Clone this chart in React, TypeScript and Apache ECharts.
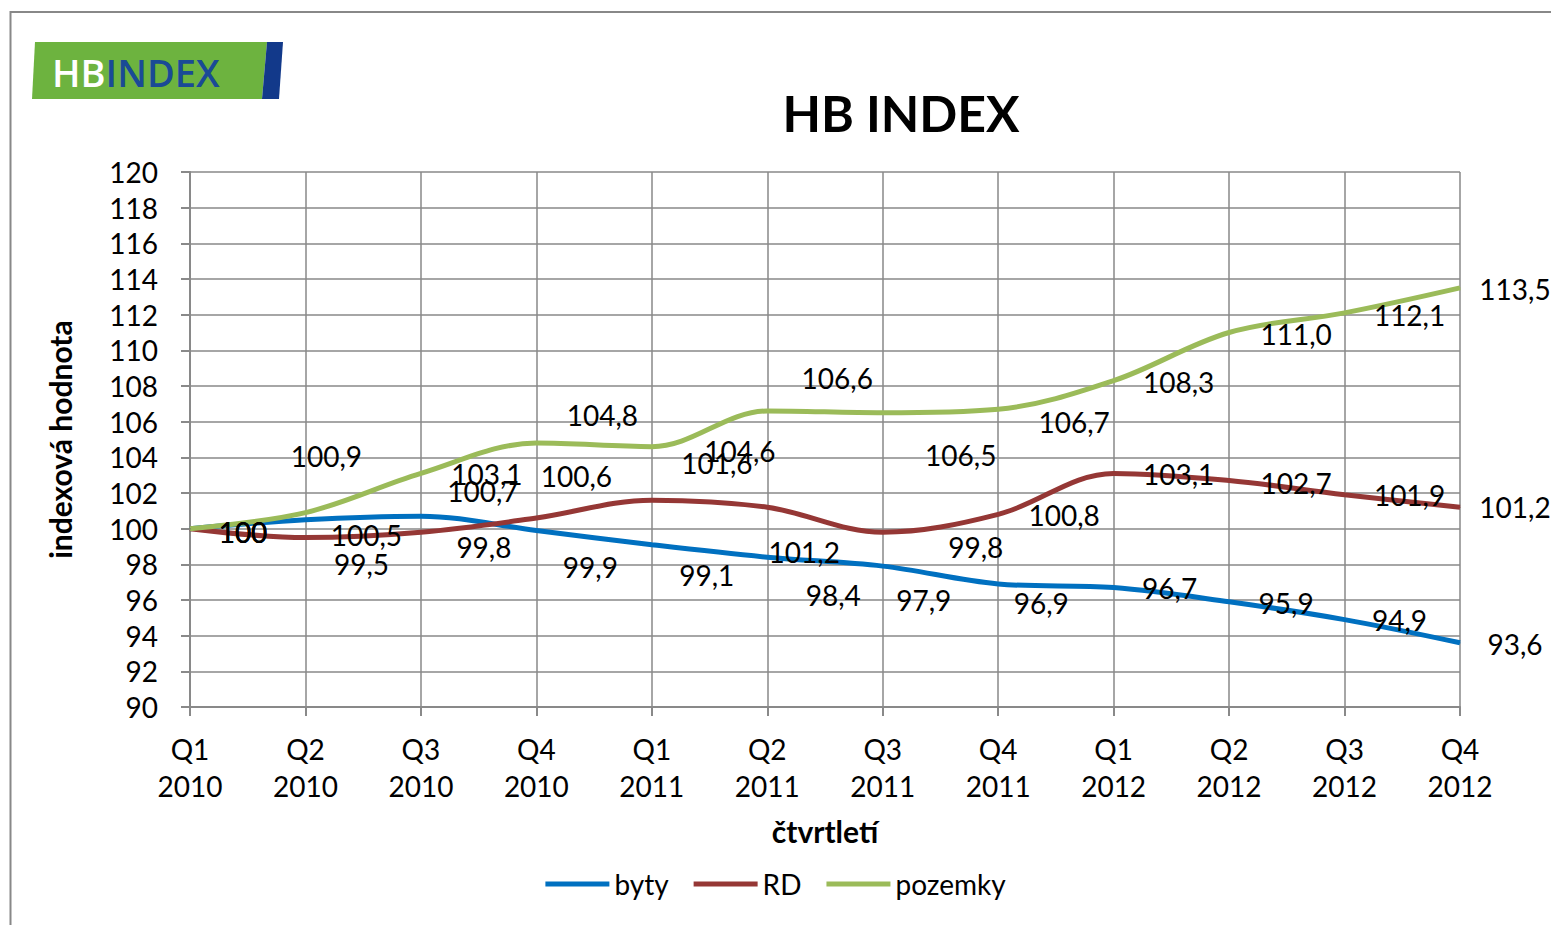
import React, { useEffect, useRef } from "react";
import * as echarts from "echarts";

const categories = [
  "Q1\n2010", "Q2\n2010", "Q3\n2010", "Q4\n2010",
  "Q1\n2011", "Q2\n2011", "Q3\n2011", "Q4\n2011",
  "Q1\n2012", "Q2\n2012", "Q3\n2012", "Q4\n2012",
];
const byty = [100, 100.5, 100.7, 99.9, 99.1, 98.4, 97.9, 96.9, 96.7, 95.9, 94.9, 93.6];
const rd = [100, 99.5, 99.8, 100.6, 101.6, 101.2, 99.8, 100.8, 103.1, 102.7, 101.9, 101.2];
const pozemky = [100, 100.9, 103.1, 104.8, 104.6, 106.6, 106.5, 106.7, 108.3, 111.0, 112.1, 113.5];
const seriesNames = ["byty", "RD", "pozemky"];
const yMin = 90;
const yMax = 120;
const yInterval = 2;

// label placement (styling), offsets of each data label from its point
const bytyLabelOffsets = [[53, 3], [61, 15], [62, -25], [54, 37], [55, 30], [66, 38], [41, 34], [43, 19], [56, 0], [57, 1], [55, 0], [55, 1]];
const rdLabelOffsets = [[53, 3], [56, 26], [63, 15], [40, -42], [65, -37], [37, 45], [93, 15], [66, 1], [65, 1], [67, 2], [65, 0], [55, 0]];
const pozemkyLabelOffsets = [[53, 3], [21, -57], [66, 1], [66, -28], [88, 4], [70, -33], [78, 42], [76, 13], [65, 1], [67, 1], [65, 2], [55, 1]];

const FONT = "Lato, 'Open Sans', sans-serif";
const GRID = "#898989";

function fmt(v: number, i: number) {
  return i === 0 ? String(v) : v.toFixed(1).replace(".", ",");
}

function makeSeries(name: string, values: number[], offsets: number[][], color: string) {
  return {
    name,
    type: "line",
    smooth: 0.35,
    symbol: "circle",
    symbolSize: 1,
    showSymbol: true,
    lineStyle: { color, width: 5 },
    itemStyle: { color },
    data: values.map((v, i) => ({
      value: v,
      label: { offset: offsets[i] },
    })),
    label: {
      show: true,
      position: "inside",
      color: "#000",
      fontFamily: FONT,
      fontSize: 28,
      formatter: (p: any) => fmt(p.value, p.dataIndex),
    },
    z: 2,
  };
}

export default function App() {
  const ref = useRef<HTMLDivElement>(null);
  useEffect(() => {
    document.body.style.margin = "0";
    const chart = echarts.init(ref.current!, null, { renderer: "svg" });
    chart.setOption({
      animation: false,
      backgroundColor: "#fff",
      title: {
        text: "HB INDEX",
        left: 896,
        textAlign: "center",
        top: 83,
        textStyle: { fontFamily: FONT, fontSize: 50, fontWeight: "bold", color: "#000" },
      },
      graphic: [
        {
          type: "rect",
          shape: { x: 10.5, y: 12, width: 1600, height: 1000 },
          style: { fill: "none", stroke: "#888", lineWidth: 2 },
          silent: true,
        },
        {
          type: "polygon",
          shape: { points: [[35, 42], [267, 42], [262, 99], [32, 99]] },
          style: { fill: "#6db33f" },
        },
        {
          type: "polygon",
          shape: { points: [[267, 42], [283, 42], [279, 99], [262, 99]] },
          style: { fill: "#12398a" },
        },
        {
          type: "text",
          x: 52,
          y: 72,
          style: {
            text: "{w|HB}{b|INDEX}",
            verticalAlign: "middle",
            rich: {
              w: { fill: "#fff", fontFamily: "'Open Sans', sans-serif", fontSize: 38, fontWeight: 600 },
              b: { fill: "#1a4a96", fontFamily: "'Open Sans', sans-serif", fontSize: 38, fontWeight: 600 },
            },
          },
        },
      ],
      legend: {
        data: seriesNames,
        left: "center",
        top: 865,
        icon: "rect",
        itemWidth: 64,
        itemHeight: 5,
        itemGap: 25,
        textStyle: { fontFamily: FONT, fontSize: 28, color: "#000", padding: [0, 0, 0, 0] },
      },
      grid: { left: 190, right: 91, top: 172, bottom: 218, containLabel: false },
      xAxis: {
        type: "category",
        data: categories,
        boundaryGap: false,
        name: "čtvrtletí",
        nameLocation: "middle",
        nameGap: 109,
        nameTextStyle: { fontFamily: FONT, fontSize: 30, fontWeight: "bold", color: "#000" },
        axisLine: { lineStyle: { color: GRID, width: 2 } },
        axisTick: { show: true, length: 9, lineStyle: { color: GRID, width: 2 } },
        axisLabel: { fontFamily: FONT, fontSize: 28, color: "#000", margin: 23, lineHeight: 37 },
        splitLine: { show: true, lineStyle: { color: GRID, width: 1.5 } },
      },
      yAxis: {
        type: "value",
        min: yMin,
        max: yMax,
        interval: yInterval,
        name: "indexová hodnota",
        nameLocation: "middle",
        nameGap: 115,
        nameTextStyle: { fontFamily: FONT, fontSize: 30, fontWeight: "bold", color: "#000" },
        axisLine: { show: true, lineStyle: { color: GRID, width: 2 } },
        axisTick: { show: true, length: 9, lineStyle: { color: GRID, width: 2 } },
        axisLabel: { fontFamily: FONT, fontSize: 28, color: "#000", margin: 32 },
        splitLine: { show: true, lineStyle: { color: GRID, width: 1.5 } },
      },
      series: [
        makeSeries("byty", byty, bytyLabelOffsets, "#0070c0"),
        makeSeries("RD", rd, rdLabelOffsets, "#953735"),
        makeSeries("pozemky", pozemky, pozemkyLabelOffsets, "#9bbb59"),
      ],
    });
    return () => chart.dispose();
  }, []);
  return <div ref={ref} style={{ width: 1551, height: 925 }} />;
}
